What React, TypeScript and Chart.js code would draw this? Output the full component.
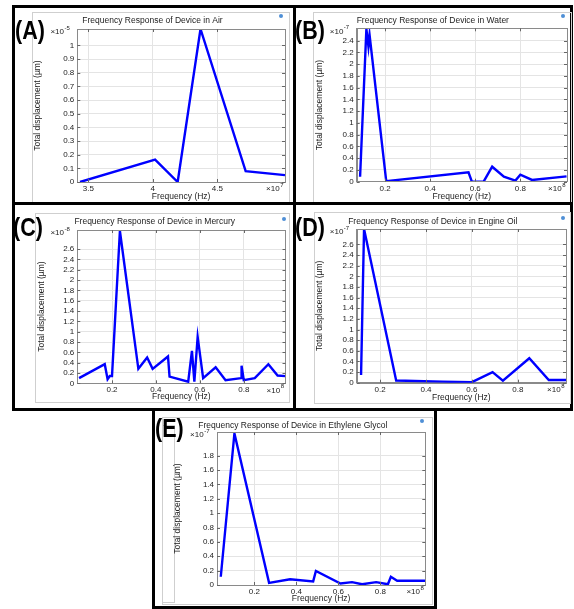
import React, { useEffect, useRef } from "react";
import { Chart, registerables } from "chart.js";
Chart.register(...registerables);

// ---------- data ----------
const airFreq = [3.436, 4.018, 4.193, 4.37, 4.72, 5.025];
const airDisp = [0, 0.164, 0, 1.12, 0.08, 0.05];
const airXTicks = [3.5, 4, 4.5];
const airYTicks = [0, 0.1, 0.2, 0.3, 0.4, 0.5, 0.6, 0.7, 0.8, 0.9, 1];

const waterFreq = [0.089, 0.117, 0.126, 0.131, 0.205, 0.57, 0.585, 0.637, 0.675, 0.727, 0.778, 0.8, 0.852, 1.005];
const waterDisp = [0.085, 2.6, 2.3, 2.5, 0.01, 0.16, 0.0, 0.0, 0.255, 0.085, 0.02, 0.12, 0.03, 0.09];
const waterXTicks = [0.2, 0.4, 0.6, 0.8];
const waterYTicks = [0, 0.2, 0.4, 0.6, 0.8, 1, 1.2, 1.4, 1.6, 1.8, 2, 2.2, 2.4];

const mercuryFreq = [0.05, 0.167, 0.18, 0.19, 0.2, 0.236, 0.32, 0.36, 0.385, 0.455, 0.462, 0.547, 0.564, 0.575, 0.59, 0.615, 0.672, 0.717, 0.788, 0.79, 0.8, 0.85, 0.912, 0.954, 0.99];
const mercuryDisp = [0.1, 0.37, 0.08, 0.14, 0.14, 2.95, 0.28, 0.5, 0.28, 0.52, 0.13, 0.03, 0.63, 0.03, 0.9, 0.1, 0.31, 0.06, 0.1, 0.34, 0.06, 0.1, 0.37, 0.15, 0.14];
const mercuryXTicks = [0.2, 0.4, 0.6, 0.8];
const mercuryYTicks = [0, 0.2, 0.4, 0.6, 0.8, 1, 1.2, 1.4, 1.6, 1.8, 2, 2.2, 2.4, 2.6];

const oilFreq = [0.117, 0.13, 0.27, 0.47, 0.6, 0.69, 0.735, 0.85, 0.935, 1.01];
const oilDisp = [0.145, 2.89, 0.04, 0.02, 0.01, 0.2, 0.04, 0.46, 0.05, 0.05];
const oilXTicks = [0.2, 0.4, 0.6, 0.8];
const oilYTicks = [0, 0.2, 0.4, 0.6, 0.8, 1, 1.2, 1.4, 1.6, 1.8, 2, 2.2, 2.4, 2.6];

const glycolFreq = [0.04, 0.105, 0.27, 0.37, 0.48, 0.493, 0.61, 0.665, 0.713, 0.78, 0.836, 0.85, 0.88, 1.014];
const glycolDisp = [0.115, 2.11, 0.03, 0.08, 0.05, 0.195, 0.02, 0.04, 0.01, 0.04, 0.01, 0.115, 0.06, 0.06];
const glycolXTicks = [0.2, 0.4, 0.6, 0.8];
const glycolYTicks = [0, 0.2, 0.4, 0.6, 0.8, 1, 1.2, 1.4, 1.6, 1.8];

const FONT = '"Liberation Sans", Arial, sans-serif';

type Box = { l: number; t: number; r: number; b: number };
type PanelCfg = {
  label: string;
  labelPos: { left: number; top: number };
  outer: Box;
  frame: Box;
  plot: Box;
  title: string;
  titleCx: number;
  titleCy: number;
  xs: number[];
  ys: number[];
  xRange: [number, number];
  yRange: [number, number];
  xTicks: number[];
  yTicks: number[];
  xExp: string;
  yExp: string;
  yTitlePad: number;
  icon: { x: number; y: number };
  extraBox?: Box;
};

const fmt = (v: number) => String(+v.toFixed(3));

const panels: PanelCfg[] = [
  {
    label: "(A)", labelPos: { left: 15, top: 18 },
    outer: { l: 12, t: 5, r: 296, b: 205 },
    frame: { l: 33, t: 13, r: 289, b: 202 },
    plot: { l: 77.3, t: 29, r: 285, b: 182 },
    title: "Frequency Response of Device in Air", titleCx: 152.5, titleCy: 21,
    xs: airFreq, ys: airDisp, xRange: [3.415, 5.025], yRange: [0, 1.12],
    xTicks: airXTicks, yTicks: airYTicks, xExp: "7", yExp: "-5", yTitlePad: 0,
    icon: { x: 281, y: 16 },
  },
  {
    label: "(B)", labelPos: { left: 295, top: 18 },
    outer: { l: 293, t: 5, r: 573, b: 205 },
    frame: { l: 314, t: 13, r: 570.7, b: 202 },
    plot: { l: 356.7, t: 28.3, r: 566.7, b: 181.7 },
    title: "Frequency Response of Device in Water", titleCx: 432.8, titleCy: 21,
    xs: waterFreq, ys: waterDisp, xRange: [0.074, 1.007], yRange: [0, 2.61],
    xTicks: waterXTicks, yTicks: waterYTicks, xExp: "8", yExp: "-7", yTitlePad: 1,
    icon: { x: 563, y: 16 },
  },
  {
    label: "(C)", labelPos: { left: 13, top: 214.5 },
    outer: { l: 12, t: 202, r: 296, b: 411 },
    frame: { l: 36, t: 214, r: 289, b: 402 },
    plot: { l: 77.3, t: 230, r: 285.5, b: 383.3 },
    title: "Frequency Response of Device in Mercury", titleCx: 154.7, titleCy: 221.7,
    xs: mercuryFreq, ys: mercuryDisp, xRange: [0.042, 0.99], yRange: [0, 2.97],
    xTicks: mercuryXTicks, yTicks: mercuryYTicks, xExp: "8", yExp: "-8", yTitlePad: 0.5,
    icon: { x: 284, y: 219 },
  },
  {
    label: "(D)", labelPos: { left: 295, top: 214.5 },
    outer: { l: 293, t: 202, r: 573, b: 411 },
    frame: { l: 315, t: 213, r: 570, b: 403 },
    plot: { l: 356.7, t: 229, r: 566, b: 382.7 },
    title: "Frequency Response of Device in Engine Oil", titleCx: 432.7, titleCy: 221.7,
    xs: oilFreq, ys: oilDisp, xRange: [0.098, 1.01], yRange: [0, 2.89],
    xTicks: oilXTicks, yTicks: oilYTicks, xExp: "8", yExp: "-7", yTitlePad: 0,
    icon: { x: 563, y: 218 },
  },
  {
    label: "(E)", labelPos: { left: 155, top: 416 },
    outer: { l: 152, t: 408, r: 437, b: 609 },
    frame: { l: 162.7, t: 417.7, r: 431.7, b: 604 },
    plot: { l: 216.7, t: 431.7, r: 425, b: 585 },
    title: "Frequency Response of Device in Ethylene Glycol", titleCx: 292.5, titleCy: 425,
    xs: glycolFreq, ys: glycolDisp, xRange: [0.022, 1.014], yRange: [0, 2.13],
    xTicks: glycolXTicks, yTicks: glycolYTicks, xExp: "8", yExp: "-7", yTitlePad: 10,
    icon: { x: 422, y: 421 },
    extraBox: { l: 162, t: 425, r: 175, b: 603 },
  },
];

function ChartPanel({ cfg }: { cfg: PanelCfg }) {
  const ref = useRef<HTMLCanvasElement | null>(null);
  const { frame, plot } = cfg;
  const W = Math.round(frame.r - frame.l);
  const H = Math.round(frame.b - frame.t);

  useEffect(() => {
    if (!ref.current) return;
    const overlay = {
      id: "comsolOverlay",
      afterDraw(chart: any) {
        const { ctx, chartArea: a } = chart;
        ctx.save();
        ctx.strokeStyle = "#8a8a8a";
        ctx.lineWidth = 1;
        ctx.strokeRect(Math.round(a.left) + 0.5, Math.round(a.top) + 0.5, Math.round(a.right - a.left), Math.round(a.bottom - a.top));
        ctx.strokeStyle = "#666";
        const xs = chart.scales.x, ys = chart.scales.y;
        ctx.beginPath();
        cfg.xTicks.forEach((v) => {
          const px = Math.round(xs.getPixelForValue(v)) + 0.5;
          ctx.moveTo(px, a.bottom); ctx.lineTo(px, a.bottom - 3);
          ctx.moveTo(px, a.top); ctx.lineTo(px, a.top + 3);
        });
        cfg.yTicks.forEach((v) => {
          const py = Math.round(ys.getPixelForValue(v)) + 0.5;
          ctx.moveTo(a.left, py); ctx.lineTo(a.left + 3, py);
          ctx.moveTo(a.right, py); ctx.lineTo(a.right - 3, py);
        });
        ctx.stroke();
        ctx.fillStyle = "#222";
        ctx.font = `8.5px ${FONT}`;
        ctx.textAlign = "center";
        ctx.textBaseline = "middle";
        ctx.fillText(cfg.title, cfg.titleCx - frame.l, cfg.titleCy - frame.t);
        const drawExp = (rightX: number, cy: number, exp: string) => {
          ctx.font = `6px ${FONT}`;
          const ew = ctx.measureText(exp).width;
          ctx.font = `8px ${FONT}`;
          const bw = ctx.measureText("×10").width;
          ctx.textAlign = "left";
          ctx.textBaseline = "middle";
          const x0 = rightX - ew - bw;
          ctx.fillText("×10", x0, cy);
          ctx.font = `6px ${FONT}`;
          ctx.fillText(exp, x0 + bw + 0.5, cy - 3.5);
        };
        drawExp(a.left - 8, a.top + 3, cfg.yExp);
        drawExp(a.right - 2, a.bottom + 7, cfg.xExp);
        ctx.restore();
      },
    };

    const chart = new Chart(ref.current, {
      type: "line",
      data: {
        datasets: [
          {
            data: cfg.xs.map((x, i) => ({ x, y: cfg.ys[i] })),
            borderColor: "#0000ff",
            borderWidth: 2.4,
            pointRadius: 0,
            tension: 0,
            fill: false,
          },
        ],
      },
      options: {
        responsive: false,
        animation: false,
        devicePixelRatio: 1,
        layout: {
          padding: { top: plot.t - frame.t, right: frame.r - plot.r, left: 0, bottom: 0 },
        },
        plugins: { legend: { display: false }, tooltip: { enabled: false }, title: { display: false } },
        scales: {
          x: {
            type: "linear",
            min: cfg.xRange[0],
            max: cfg.xRange[1],
            afterBuildTicks: (s: any) => { s.ticks = cfg.xTicks.map((v) => ({ value: v })); },
            afterFit: (s: any) => { s.height = frame.b - plot.b; },
            grid: { color: "#e4e4e4", drawTicks: false },
            border: { color: "#8a8a8a" },
            ticks: { font: { size: 8, family: FONT }, color: "#222", padding: 2, maxRotation: 0, autoSkip: false, callback: (v: any) => fmt(Number(v)) },
            title: { display: true, text: "Frequency (Hz)", font: { size: 8.5, family: FONT }, color: "#222", padding: 0 },
          },
          y: {
            type: "linear",
            min: cfg.yRange[0],
            max: cfg.yRange[1],
            afterBuildTicks: (s: any) => { s.ticks = cfg.yTicks.map((v) => ({ value: v })); },
            afterFit: (s: any) => { s.width = plot.l - frame.l; },
            grid: { color: "#e4e4e4", drawTicks: false },
            border: { color: "#8a8a8a" },
            ticks: { font: { size: 8, family: FONT }, color: "#222", padding: 3, autoSkip: false, callback: (v: any) => fmt(Number(v)) },
            title: { display: true, text: "Total displacement (µm)", font: { size: 8.5, family: FONT }, color: "#222", padding: { top: cfg.yTitlePad, bottom: 0 } },
          },
        },
      },
      plugins: [overlay],
    } as any);
    return () => chart.destroy();
  }, []);

  return (
    <>
      <div
        style={{
          position: "absolute",
          left: cfg.outer.l,
          top: cfg.outer.t,
          width: cfg.outer.r - cfg.outer.l,
          height: cfg.outer.b - cfg.outer.t,
          border: "3px solid #000",
          boxSizing: "border-box",
          background: "#fff",
        }}
      />
      <div
        style={{
          position: "absolute",
          left: frame.l - 1,
          top: frame.t - 1,
          width: W + 2,
          height: H + 2,
          border: "1px solid #cfcfcf",
          boxSizing: "border-box",
        }}
      />
      {cfg.extraBox && (
        <div
          style={{
            position: "absolute",
            left: cfg.extraBox.l,
            top: cfg.extraBox.t,
            width: cfg.extraBox.r - cfg.extraBox.l,
            height: cfg.extraBox.b - cfg.extraBox.t,
            border: "1px solid #cfcfcf",
            boxSizing: "border-box",
          }}
        />
      )}
      <canvas
        ref={ref}
        width={W}
        height={H}
        style={{ position: "absolute", left: frame.l, top: frame.t, width: W, height: H }}
      />
      <div
        style={{
          position: "absolute",
          left: cfg.icon.x - 2,
          top: cfg.icon.y - 2,
          width: 4,
          height: 4,
          borderRadius: 2,
          background: "#4f8fd6",
        }}
      />
      <div
        style={{
          position: "absolute",
          left: cfg.labelPos.left,
          top: cfg.labelPos.top,
          fontFamily: FONT,
          fontWeight: "bold",
          fontSize: 25,
          lineHeight: "25px",
          color: "#000",
          transform: "scaleX(0.86)",
          transformOrigin: "left top",
          whiteSpace: "nowrap",
          background: "transparent",
        }}
      >
        {cfg.label}
      </div>
    </>
  );
}

export default function App() {
  return (
    <div style={{ position: "absolute", left: 0, top: 0, width: 574, height: 609, background: "#fff", overflow: "hidden" }}>
      {panels.map((p) => (
        <ChartPanel key={p.label} cfg={p} />
      ))}
    </div>
  );
}
